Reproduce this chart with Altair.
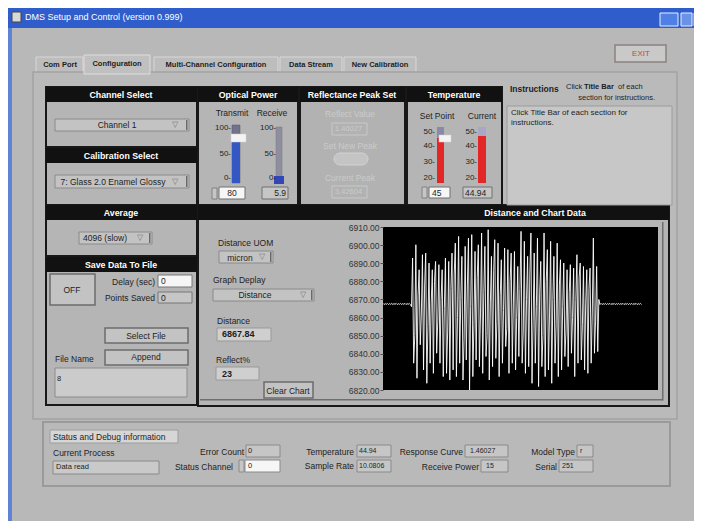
import altair as alt
import pandas as pd

# ---------------- strip chart data: Distance (micron) vs sample ----------------
flat_before = [6867.8, 6867.2, 6867.7, 6867.3, 6867.8, 6867.2, 6867.7, 6867.3,
               6867.8, 6867.2, 6867.7, 6867.3, 6867.8, 6867.2, 6867.7, 6867.3,
               6867.8, 6867.2, 6867.7, 6867.3, 6867.8, 6867.2, 6867.7, 6867.3,
               6867.8, 6867.2, 6866.0]
spike_tops = [6892.9, 6900.2, 6886.4, 6894.7, 6895.6, 6890.1, 6886.4, 6891.0,
              6889.2, 6886.4, 6892.9, 6891.0, 6895.6, 6901.1, 6904.8, 6893.8,
              6899.3, 6903.9, 6905.8, 6896.5, 6900.2, 6906.7, 6899.3, 6908.5,
              6893.8, 6903.0, 6901.1, 6891.9, 6898.4, 6897.5, 6895.6, 6896.5,
              6888.2, 6907.6, 6902.1, 6893.8, 6906.7, 6895.6, 6903.9, 6891.0,
              6906.7, 6897.5, 6902.1, 6893.8, 6901.1, 6891.9, 6890.1, 6886.4,
              6889.2, 6887.3, 6894.7, 6890.1, 6888.2, 6886.4, 6887.3, 6903.9,
              6888.2]
spike_bottoms = [6834.8, 6826.5, 6845.0, 6831.1, 6823.7, 6834.8, 6829.2, 6840.3,
                 6834.8, 6827.4, 6829.2, 6825.5, 6831.1, 6827.4, 6834.8, 6825.5,
                 6836.6, 6820.0, 6827.4, 6836.6, 6832.9, 6829.2, 6838.5, 6825.5,
                 6832.9, 6837.5, 6827.4, 6834.8, 6844.0, 6829.2, 6834.8, 6831.1,
                 6838.5, 6834.8, 6829.2, 6832.9, 6823.7, 6834.8, 6821.9, 6832.9,
                 6827.4, 6831.1, 6823.7, 6834.8, 6827.4, 6831.1, 6838.5, 6832.9,
                 6840.3, 6827.4, 6834.8, 6836.6, 6831.1, 6829.2, 6834.8, 6840.3,
                 6841.2]
spike_mids = [6850, 6872, 6862, 6878, 6855, 6868, 6880, 6858, 6870, 6865,
              6852, 6876, 6884, 6860, 6870, 6848, 6878, 6866, 6856, 6882,
              6862, 6874, 6850, 6868, 6886, 6858, 6872, 6864, 6854, 6880,
              6868, 6860, 6876, 6852, 6870, 6884, 6858, 6866, 6874, 6850,
              6880, 6862, 6870, 6856, 6878, 6866, 6852, 6874, 6860, 6870,
              6882, 6856, 6868, 6876, 6862, 6858, 6870]
flat_after = [6867.2, 6867.8, 6867.2, 6867.7, 6867.3, 6867.8, 6867.2, 6867.7,
              6867.3, 6867.8, 6867.2, 6867.7, 6867.3, 6867.8, 6867.2, 6867.7,
              6867.3, 6867.8, 6867.2, 6867.7, 6867.3, 6867.8, 6867.2, 6867.7,
              6867.3, 6867.8, 6867.2, 6867.7, 6867.3, 6867.8, 6867.2, 6867.7,
              6867.3, 6867.8, 6867.2, 6867.7, 6867.3, 6867.8, 6867.2]
y_ticks = [6820, 6830, 6840, 6850, 6860, 6870, 6880, 6890, 6900, 6910]

series = list(flat_before)
for top, bottom, mid in zip(spike_tops, spike_bottoms, spike_mids):
    series += [top, bottom, mid]
series += flat_after
strip_df = pd.DataFrame({"sample": list(range(len(series))), "distance": series})

# ---------------- window / panel layout (screen pixels) ----------------
FONT = "Liberation Sans"
BG = "#b8b8b8"
PANEL = "#b5b5b5"
HEAD = "#111111"
BORDER = "#181818"
COMBO = "#c3c3c3"
BTN = "#c3c3c3"
WHITE = "#f6f6f6"
IND = "#c6c6c6"

rects = [
    # x1, y1, x2, y2, fill, stroke, stroke width
    (8, 6, 702, 28, "#2f5ecc", "#2f5ecc", 0),
    (8, 28, 702, 529, BG, BG, 0),
    (8, 28, 12, 529, "#5d82d6", "#5d82d6", 0),
    (8, 524, 702, 529, "#a9bce6", "#a9bce6", 0),
    (12, 12, 21, 22, "#d8d8d8", "#444444", 1),
    (660, 13, 678, 26, "#4f80e6", "#e8eefc", 1),
    (681, 13, 692, 26, "#6a92e6", "#e8eefc", 1),
    (694, 13, 702, 26, "#e2632d", "#f4d8c8", 1),
    (615, 45, 666, 62, "#c9c9c9", "#8c8080", 1.5),
    (36, 57, 83, 73, "#bdbdbd", "#d8d8d8", 1),
    (154, 57, 278, 73, "#bdbdbd", "#d8d8d8", 1),
    (280, 57, 342, 73, "#bdbdbd", "#d8d8d8", 1),
    (344, 57, 416, 73, "#bdbdbd", "#d8d8d8", 1),
    (33, 72, 677, 419, "#bababa", "#a2a2a2", 1.5),
    (84, 55, 150, 74, "#c0c0c0", "#dedede", 1),
    # black-bordered panels
    (46, 87, 197, 147, PANEL, BORDER, 2),
    (46, 147, 197, 205, PANEL, BORDER, 2),
    (198, 87, 298, 205, PANEL, BORDER, 2),
    (300, 87, 405, 205, "#b2b2b2", BORDER, 2),
    (407, 87, 502, 205, PANEL, BORDER, 2),
    (46, 205, 197, 256, PANEL, BORDER, 2),
    (46, 256, 197, 405, PANEL, BORDER, 2),
    (198, 205, 669, 406, PANEL, BORDER, 2),
    (46, 87, 197, 102, HEAD, HEAD, 0),
    (46, 148, 197, 163, HEAD, HEAD, 0),
    (198, 87, 298, 102, HEAD, HEAD, 0),
    (300, 87, 405, 102, HEAD, HEAD, 0),
    (407, 87, 502, 102, HEAD, HEAD, 0),
    (46, 205, 197, 220, HEAD, HEAD, 0),
    (46, 257, 197, 272, HEAD, HEAD, 0),
    (198, 205, 669, 220, HEAD, HEAD, 0),
    # combos
    (55, 119, 189, 131, COMBO, "#8a8a8a", 1),
    (55, 175, 189, 188, COMBO, "#8a8a8a", 1),
    (79, 232, 152, 244, COMBO, "#8a8a8a", 1),
    (219, 251, 273, 263, COMBO, "#8a8a8a", 1),
    (213, 289, 314, 301, COMBO, "#8a8a8a", 1),
    (186, 120, 187.5, 130, "#6a6a6a", "#6a6a6a", 0),
    (186, 176, 187.5, 187, "#6a6a6a", "#6a6a6a", 0),
    (149, 233, 150.5, 243, "#6a6a6a", "#6a6a6a", 0),
    (270, 252, 271.5, 262, "#6a6a6a", "#6a6a6a", 0),
    (311, 290, 312.5, 300, "#6a6a6a", "#6a6a6a", 0),
    # optical power sliders
    (232, 125, 240, 183, "#72728c", "#5a5a6a", 0.5),
    (232, 137, 240, 183, "#3557c4", "#3557c4", 0),
    (231, 134, 246, 142, "#f4f4f4", "#d0d0d0", 0.5),
    (276, 127, 282, 183, "#8e8e9e", "#7a7a88", 0.5),
    (274, 176, 284, 184, "#3346b8", "#3346b8", 0),
    (219, 187, 245, 199, WHITE, "#707070", 1),
    (212, 188, 217, 199, IND, "#808080", 1),
    (262, 187, 288, 199, IND, "#707070", 1),
    # reflectance (disabled)
    (332, 123, 367, 135, "#b2b2b2", "#c8c8c8", 1),
    (332, 186, 367, 198, "#b2b2b2", "#c8c8c8", 1),
    # temperature thermometers
    (437, 127, 444, 138, "#8a8aa8", "#8a8aa8", 0),
    (437, 138, 444, 183, "#e32626", "#e32626", 0),
    (439, 135, 451, 142, "#f4f4f4", "#d0d0d0", 0.5),
    (478, 127, 486, 136, "#a8a8c4", "#a8a8c4", 0),
    (478, 136, 486, 183, "#e32626", "#e32626", 0),
    (429, 187, 450, 198, WHITE, "#707070", 1),
    (422, 187, 427, 198, IND, "#808080", 1),
    (463, 187, 492, 198, IND, "#707070", 1),
    # instructions
    (507, 106, 672, 205, "#c7c7c7", "#9c9c9c", 1),
    # save data to file
    (50, 274, 95, 305, BTN, "#6c6c6c", 1.5),
    (158, 275, 192, 287, WHITE, "#777777", 1),
    (158, 292, 192, 303, IND, "#777777", 1),
    (105, 328, 188, 343, BTN, "#6c6c6c", 1.5),
    (105, 350, 188, 365, BTN, "#6c6c6c", 1.5),
    (55, 368, 187, 397, "#cbcbcb", "#8c8c8c", 1),
    # distance and chart data
    (217, 328, 271, 341, "#cfcfcf", "#999999", 1),
    (216, 367, 259, 380, "#cfcfcf", "#999999", 1),
    (264, 382, 313, 398, BTN, "#6c6c6c", 1.5),
    (200, 399, 663, 400.5, "#6e6e6e", "#6e6e6e", 0),
    (662, 222, 663.5, 400.5, "#6e6e6e", "#6e6e6e", 0),
    (383, 227, 658, 390, "#000000", "#000000", 0),
    # status panel
    (43, 422, 670, 486, "#b9b9b9", "#9a9a9a", 2),
    (50, 430, 178, 443, "#d6d6d6", "#9c9c9c", 1),
    (53, 461, 159, 474, "#c9c9c9", "#8a8a8a", 1),
    (246, 445, 280, 457, IND, "#8a8a8a", 1),
    (239, 460, 244, 472, IND, "#8a8a8a", 1),
    (245, 460, 280, 472, WHITE, "#8a8a8a", 1),
    (357, 445, 391, 457, IND, "#8a8a8a", 1),
    (357, 460, 391, 472, IND, "#8a8a8a", 1),
    (465, 445, 508, 457, IND, "#8a8a8a", 1),
    (481, 460, 508, 472, IND, "#8a8a8a", 1),
    (577, 445, 593, 457, IND, "#8a8a8a", 1),
    (559, 460, 593, 472, IND, "#8a8a8a", 1),
]
rect_df = pd.DataFrame(rects, columns=["x1", "y1", "x2", "y2", "fill", "stroke", "sw"])

ovals = pd.DataFrame([(334, 153, 368, 165, "#c4c4c4", "#d2d2d2", 1)],
                     columns=["x1", "y1", "x2", "y2", "fill", "stroke", "sw"])

DK = "#1e1e1e"
DIS = "#cbcbcb"
W = "#ffffff"
texts = [
    # x, y, text, size, colour, align, weight
    (25, 17, "DMS Setup and Control (version 0.999)", 9, W, "left", "normal"),
    (641, 54, "EXIT", 8, "#d04040", "center", "normal"),
    (60, 65, "Com Port", 7.5, DK, "center", "bold"),
    (117, 64, "Configuration", 7.5, DK, "center", "bold"),
    (216, 65, "Multi-Channel Configuration", 7.5, DK, "center", "bold"),
    (311, 65, "Data Stream", 7.5, DK, "center", "bold"),
    (380, 65, "New Calibration", 7.5, DK, "center", "bold"),
    (121, 95, "Channel Select", 8.8, W, "center", "bold"),
    (121, 156, "Calibration Select", 8.8, W, "center", "bold"),
    (248, 95, "Optical Power", 8.8, W, "center", "bold"),
    (352, 95, "Reflectance Peak Set", 8.8, W, "center", "bold"),
    (454, 95, "Temperature", 8.8, W, "center", "bold"),
    (121, 213, "Average", 8.8, W, "center", "bold"),
    (121, 265, "Save Data To File", 8.8, W, "center", "bold"),
    (535, 213, "Distance and Chart Data", 8.8, W, "center", "bold"),
    (117, 125, "Channel 1", 8.5, DK, "center", "normal"),
    (113, 182, "7: Glass 2.0 Enamel Glossy", 8.5, DK, "center", "normal"),
    (105, 238, "4096 (slow)", 8.5, DK, "center", "normal"),
    (240, 258, "micron", 8.5, DK, "center", "normal"),
    (255, 295, "Distance", 8.5, DK, "center", "normal"),
    (175, 125, "▽", 8, "#777777", "center", "normal"),
    (175, 182, "▽", 8, "#777777", "center", "normal"),
    (140, 238, "▽", 8, "#777777", "center", "normal"),
    (262, 257, "▽", 8, "#777777", "center", "normal"),
    (303, 295, "▽", 8, "#777777", "center", "normal"),
    (232, 113, "Transmit", 8.5, DK, "center", "normal"),
    (272, 113, "Receive", 8.5, DK, "center", "normal"),
    (231, 128, "100-", 8, DK, "right", "normal"),
    (231, 154, "50-", 8, DK, "right", "normal"),
    (231, 178, "0-", 8, DK, "right", "normal"),
    (276, 128, "100-", 8, DK, "right", "normal"),
    (276, 154, "50-", 8, DK, "right", "normal"),
    (276, 178, "0-", 8, DK, "right", "normal"),
    (232, 193, "80", 8.5, DK, "center", "normal"),
    (286, 193, "5.9", 8.5, DK, "right", "normal"),
    (350, 114, "Reflect Value", 8.5, DIS, "center", "normal"),
    (350, 146, "Set New Peak", 8.5, DIS, "center", "normal"),
    (350, 178, "Current Peak", 8.5, DIS, "center", "normal"),
    (335, 129, "1.46027", 7.5, DIS, "left", "normal"),
    (335, 192, "3.42604", 7.5, DIS, "left", "normal"),
    (437, 116, "Set Point", 8.5, DK, "center", "normal"),
    (482, 116, "Current", 8.5, DK, "center", "normal"),
    (435, 132, "50-", 8, DK, "right", "normal"),
    (435, 146, "40-", 8, DK, "right", "normal"),
    (435, 162, "30-", 8, DK, "right", "normal"),
    (435, 178, "20-", 8, DK, "right", "normal"),
    (477, 132, "50-", 8, DK, "right", "normal"),
    (477, 146, "40-", 8, DK, "right", "normal"),
    (477, 162, "30-", 8, DK, "right", "normal"),
    (477, 178, "20-", 8, DK, "right", "normal"),
    (432, 193, "45", 8.5, DK, "left", "normal"),
    (465, 193, "44.94", 8.5, DK, "left", "normal"),
    (510, 89, "Instructions", 8.5, DK, "left", "bold"),
    (566, 87, "Click", 7.5, DK, "left", "normal"),
    (584, 87, "Title Bar", 7.5, DK, "left", "bold"),
    (618, 87, "of each", 7.5, DK, "left", "normal"),
    (655, 98, "section for instructions.", 7.5, DK, "right", "normal"),
    (511, 113, "Click Title Bar of each section for", 8, DK, "left", "normal"),
    (511, 123, "instructions.", 8, DK, "left", "normal"),
    (72, 290, "OFF", 8.5, DK, "center", "normal"),
    (155, 282, "Delay (sec)", 8.5, DK, "right", "normal"),
    (155, 298, "Points Saved", 8.5, DK, "right", "normal"),
    (161, 281, "0", 8.5, DK, "left", "normal"),
    (161, 298, "0", 8.5, DK, "left", "normal"),
    (146, 336, "Select File", 8.5, DK, "center", "normal"),
    (146, 357, "Append", 8.5, DK, "center", "normal"),
    (55, 359, "File Name", 8.5, DK, "left", "normal"),
    (57, 379, "8", 7.5, DK, "left", "normal"),
    (218, 243, "Distance UOM", 8.5, DK, "left", "normal"),
    (213, 280, "Graph Deplay", 8.5, DK, "left", "normal"),
    (217, 321, "Distance", 8.5, DK, "left", "normal"),
    (222, 334, "6867.84", 9, DK, "left", "bold"),
    (216, 360, "Reflect%", 8.5, DK, "left", "normal"),
    (222, 374, "23", 9, DK, "left", "bold"),
    (288, 391, "Clear Chart", 8.5, DK, "center", "normal"),
    (53, 437, "Status and Debug information", 8.5, DK, "left", "normal"),
    (53, 453, "Current Process", 8.5, DK, "left", "normal"),
    (56, 467, "Data read", 7.5, DK, "left", "normal"),
    (244, 452, "Error Count", 8.5, DK, "right", "normal"),
    (248, 451, "0", 7.5, DK, "left", "normal"),
    (233, 467, "Status Channel", 8.5, DK, "right", "normal"),
    (248, 466, "0", 7.5, DK, "left", "normal"),
    (354, 452, "Temperature", 8.5, DK, "right", "normal"),
    (359, 451, "44.94", 7, DK, "left", "normal"),
    (354, 466, "Sample Rate", 8.5, DK, "right", "normal"),
    (359, 466, "10.0806", 7, DK, "left", "normal"),
    (463, 452, "Response Curve", 8.5, DK, "right", "normal"),
    (470, 451, "1.46027", 7, DK, "left", "normal"),
    (479, 467, "Receive Power", 8.5, DK, "right", "normal"),
    (486, 466, "15", 7, DK, "left", "normal"),
    (575, 452, "Model Type", 8.5, DK, "right", "normal"),
    (580, 451, "r", 7, DK, "left", "normal"),
    (557, 467, "Serial", 8.5, DK, "right", "normal"),
    (562, 466, "251", 7, DK, "left", "normal"),
]
text_df = pd.DataFrame(texts, columns=["x", "y", "t", "s", "c", "align", "weight"])

xs = alt.Scale(domain=[8, 694], range=[0, 686], nice=False, zero=False)
ys = alt.Scale(domain=[8, 521], range=[0, 513], nice=False, zero=False)


def rect_layer(df, **mark_kw):
    return alt.Chart(df).mark_rect(**mark_kw).encode(
        x=alt.X("x1:Q", scale=xs, axis=None),
        x2="x2:Q",
        y=alt.Y("y1:Q", scale=ys, axis=None),
        y2="y2:Q",
        fill=alt.Fill("fill:N", scale=None),
        stroke=alt.Stroke("stroke:N", scale=None),
        strokeWidth=alt.StrokeWidth("sw:Q", scale=None),
    )


layers = [rect_layer(rect_df), rect_layer(ovals, cornerRadius=6)]
for (al, wt), sub in text_df.groupby(["align", "weight"]):
    layers.append(
        alt.Chart(sub.reset_index(drop=True)).mark_text(
            align=al, baseline="middle", font=FONT, fontWeight=wt
        ).encode(
            x=alt.X("x:Q", scale=xs, axis=None),
            y=alt.Y("y:Q", scale=ys, axis=None),
            text="t:N",
            size=alt.Size("s:Q", scale=None),
            color=alt.Color("c:N", scale=None),
        )
    )
gui = alt.layer(*layers)

strip = alt.Chart(strip_df).mark_line(color="white", strokeWidth=0.9).encode(
    x=alt.X("sample:Q", scale=alt.Scale(domain=[0, 251], range=[375, 650], nice=False, zero=False),
            axis=None),
    y=alt.Y("distance:Q",
            scale=alt.Scale(domain=[6820, 6910], range=[382, 219], nice=False, zero=False),
            axis=alt.Axis(values=y_ticks, format=".2f", orient="left", offset=-375, zindex=1,
                          title=None, grid=False, domain=False, labelFont=FONT,
                          labelFontSize=8.5, labelColor="#333333", tickColor="#555555",
                          tickSize=3, labelPadding=1)),
)

chart = alt.layer(gui, strip).resolve_scale(x="independent", y="independent").properties(
    width=686, height=513, padding=0, autosize=alt.AutoSizeParams(type="none"),
    background="white",
).configure_view(stroke=None)

chart.save("out.html", embed_options={"renderer": "svg", "actions": False})
